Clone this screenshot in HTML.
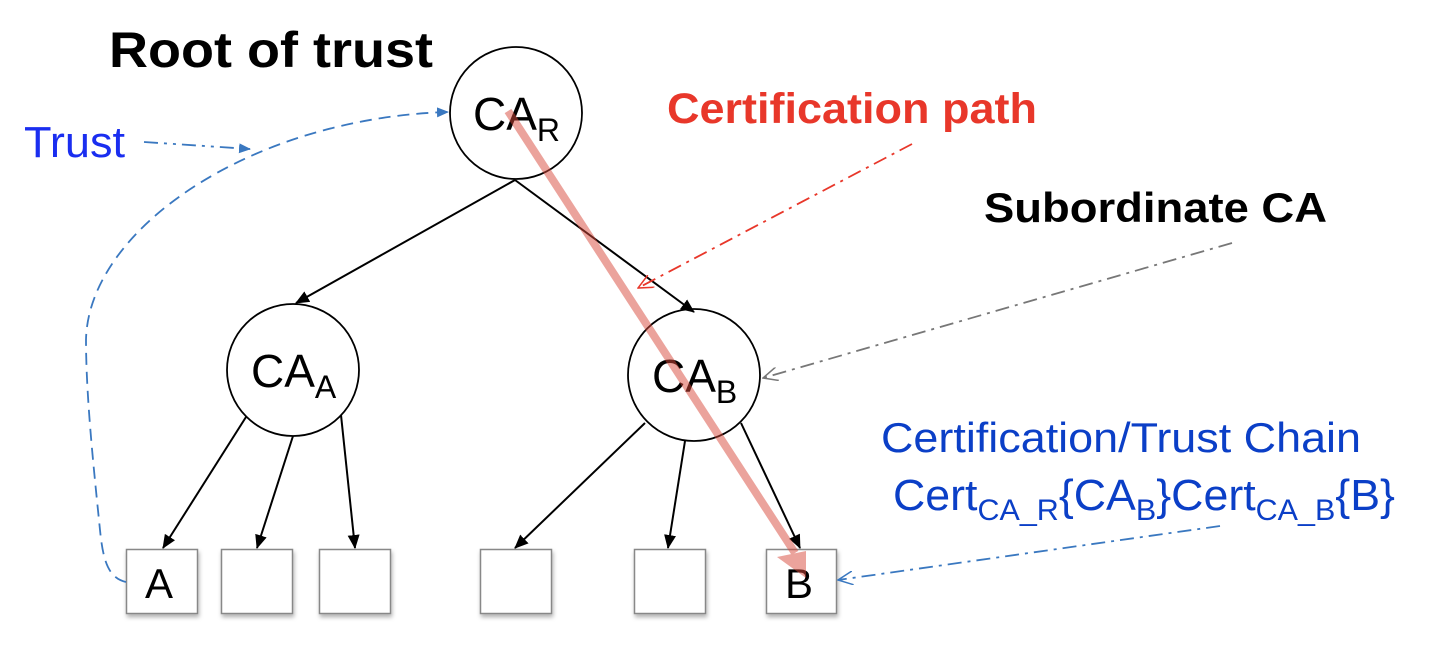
<!DOCTYPE html>
<html><head><meta charset="utf-8"><style>
html,body{margin:0;padding:0;background:#fff;}
svg{display:block;}
text{font-family:"Liberation Sans",Arial,sans-serif;}
</style></head><body>
<svg width="1434" height="666" viewBox="0 0 1434 666" xmlns="http://www.w3.org/2000/svg">
<defs>
<marker id="abk" markerWidth="14" markerHeight="12" refX="13" refY="6" orient="auto" markerUnits="userSpaceOnUse"><path d="M0,0 L14,6 L0,12 z" fill="#000"/></marker>
<marker id="abl" markerWidth="12" markerHeight="10" refX="11" refY="5" orient="auto" markerUnits="userSpaceOnUse"><path d="M0,0 L12,5 L0,10 z" fill="#3a78c0"/></marker>
<marker id="ored" markerWidth="16" markerHeight="14" refX="15" refY="7" orient="auto" markerUnits="userSpaceOnUse"><path d="M0,0 L15,7 L0,14" fill="none" stroke="#e8372a" stroke-width="1.5"/></marker>
<marker id="ogr" markerWidth="16" markerHeight="14" refX="15" refY="7" orient="auto" markerUnits="userSpaceOnUse"><path d="M0,0 L15,7 L0,14" fill="none" stroke="#777" stroke-width="1.5"/></marker>
<marker id="obl" markerWidth="16" markerHeight="14" refX="15" refY="7" orient="auto" markerUnits="userSpaceOnUse"><path d="M0,0 L15,7 L0,14" fill="none" stroke="#3a78c0" stroke-width="1.5"/></marker>
<filter id="sh" x="-10%" y="-10%" width="130%" height="130%"><feDropShadow dx="1" dy="3" stdDeviation="2" flood-color="#000" flood-opacity="0.3"/></filter>
</defs>

<!-- texts -->
<text x="109" y="67" font-size="50" font-weight="bold" textLength="324" lengthAdjust="spacingAndGlyphs">Root of trust</text>
<text x="24" y="157" font-size="44" fill="#1a2ef0" textLength="101" lengthAdjust="spacingAndGlyphs">Trust</text>
<text x="667" y="123" font-size="43" font-weight="bold" fill="#e8372a" textLength="370" lengthAdjust="spacingAndGlyphs">Certification path</text>
<text x="984" y="222" font-size="42" font-weight="bold" textLength="343" lengthAdjust="spacingAndGlyphs">Subordinate CA</text>
<text x="881" y="452" font-size="42" fill="#0b3fc7" textLength="480" lengthAdjust="spacingAndGlyphs">Certification/Trust Chain</text>
<text x="893" y="510" font-size="44" fill="#0b3fc7" textLength="502" lengthAdjust="spacingAndGlyphs">Cert<tspan font-size="30" dy="10">CA_R</tspan><tspan dy="-10">{CA</tspan><tspan font-size="30" dy="10">B</tspan><tspan dy="-10">}Cert</tspan><tspan font-size="30" dy="10">CA_B</tspan><tspan dy="-10">{B}</tspan></text>

<!-- boxes -->
<g fill="#fff" stroke="#888" stroke-width="1.5" filter="url(#sh)">
<rect x="126.5" y="549.5" width="71" height="64"/>
<rect x="221.5" y="549.5" width="71" height="64"/>
<rect x="319.5" y="549.5" width="71" height="64"/>
<rect x="480.5" y="549.5" width="71" height="64"/>
<rect x="634.5" y="549.5" width="71" height="64"/>
<rect x="766.5" y="549.5" width="70" height="64"/>
</g>
<text x="145" y="598" font-size="42">A</text>
<text x="785" y="598" font-size="42">B</text>

<!-- circles -->
<g fill="#fff" stroke="#000" stroke-width="1.8">
<circle cx="516" cy="113" r="66"/>
<circle cx="293" cy="370" r="66"/>
<circle cx="694" cy="375" r="66"/>
</g>
<text x="473" y="130" font-size="46">CA<tspan font-size="32" dy="11">R</tspan></text>
<text x="251" y="387" font-size="46">CA<tspan font-size="32" dy="11">A</tspan></text>
<text x="652" y="392" font-size="46">CA<tspan font-size="32" dy="11">B</tspan></text>

<!-- black arrows -->
<g stroke="#000" stroke-width="2" marker-end="url(#abk)">
<line x1="515" y1="180" x2="296" y2="303"/>
<line x1="515" y1="180" x2="694" y2="312"/>
<line x1="246" y1="417" x2="163" y2="548"/>
<line x1="293" y1="436" x2="257" y2="548"/>
<line x1="341" y1="415" x2="355" y2="548"/>
<line x1="645" y1="423" x2="515" y2="548"/>
<line x1="685" y1="441" x2="668" y2="548"/>
<line x1="741" y1="423" x2="800" y2="548"/>
</g>

<!-- red path -->
<g opacity="0.5">
<line x1="508" y1="111" x2="795" y2="553" stroke="#d94a3c" stroke-width="8"/>
<path d="M777,557 L806,551 L806,578 z" fill="#d94a3c"/>
</g>

<!-- dash-dot pointers -->
<line x1="912" y1="144" x2="638" y2="288" stroke="#e8372a" stroke-width="1.8" stroke-dasharray="14,6,3,6" marker-end="url(#ored)"/>
<line x1="1232" y1="243" x2="763" y2="378" stroke="#777" stroke-width="1.8" stroke-dasharray="14,6,3,6" marker-end="url(#ogr)"/>
<line x1="1220" y1="526" x2="838" y2="580" stroke="#3a78c0" stroke-width="1.8" stroke-dasharray="14,6,3,6" marker-end="url(#obl)"/>
<line x1="144" y1="142" x2="250" y2="149" stroke="#3a78c0" stroke-width="1.8" stroke-dasharray="14,6,3,6,3,6" marker-end="url(#abl)"/>

<!-- trust curve -->
<path d="M126,582 C108,578 103,560 100,530 C95,480 86,400 86,340 C88,230 250,118 448,112" fill="none" stroke="#3a78c0" stroke-width="1.8" stroke-dasharray="12,7" marker-end="url(#abl)"/>
</svg>
</body></html>
